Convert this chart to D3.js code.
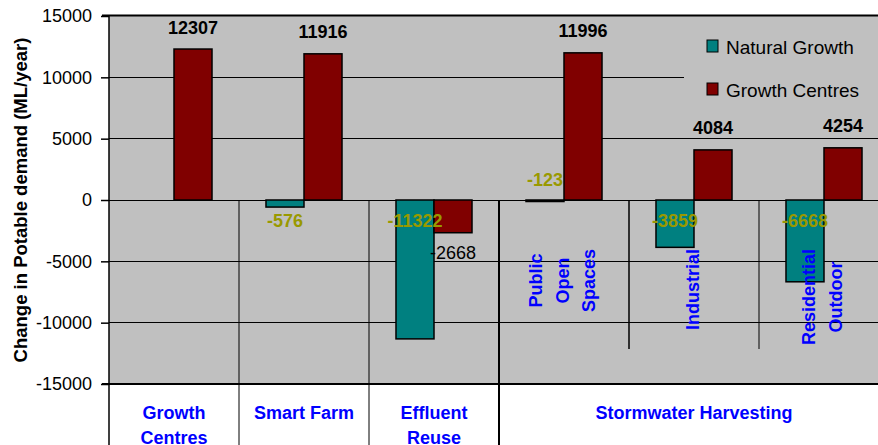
<!DOCTYPE html>
<html>
<head>
<meta charset="utf-8">
<script src="https://cdn.jsdelivr.net/npm/d3@7"></script>
<style>
  body { margin: 0; background: #fff; }
  text { font-family: "Liberation Sans", Arial, sans-serif; }
</style>
</head>
<body>
<svg id="canvas" width="878" height="445"></svg>
<script>
let categories = ["Growth Centres", "Smart Farm", "Effluent Reuse", "Public Open Spaces", "Industrial", "Residential Outdoor"]
let naturalGrowth = [null, -576, -11322, -123, -3859, -6668]
let growthCentres = [12307, 11916, -2668, 11996, 4084, 4254]
let yTicks = [-15000, -10000, -5000, 0, 5000, 10000, 15000]
let seriesNames = ["Natural Growth", "Growth Centres"]
let seriesColors = ["#008080", "#800000"]
let groupLines = [["Growth", "Centres"], ["Smart Farm"], ["Effluent", "Reuse"], ["Stormwater Harvesting"]]
let groupSizes = [1, 1, 1, 3]
let subLines = [null, null, null, ["Public", "Open", "Spaces"], ["Industrial"], ["Residential", "Outdoor"]]

let svg = d3.select('#canvas')

let plotLeft = 109, plotRight = 889, plotTop = 16, plotBottom = 384

let x = d3.scaleBand().domain(categories).range([plotLeft, plotRight])
let xs = d3.scaleBand().domain(seriesNames).range([0, x.bandwidth()]).paddingOuter(0.71)
let y = d3.scaleLinear().domain([-15000, 15000]).range([plotBottom, plotTop])

// plot background
svg.append('rect')
   .attr('x', plotLeft).attr('y', plotTop)
   .attr('width', plotRight - plotLeft).attr('height', plotBottom - plotTop)
   .attr('fill', '#c0c0c0')

// gridlines
svg.selectAll('line.grid')
   .data(yTicks.filter(t => t > -15000 && t < 15000))
   .enter()
   .append('line')
   .attr('class', 'grid')
   .attr('x1', plotLeft).attr('x2', plotRight)
   .attr('y1', d => y(d)).attr('y2', d => y(d))
   .attr('stroke', '#000').attr('stroke-width', 1)
   .attr('shape-rendering', 'crispEdges')

// legend box hides gridline behind it
svg.append('rect')
   .attr('x', 684).attr('y', 24)
   .attr('width', plotRight - 684).attr('height', 90)
   .attr('fill', '#c0c0c0')

// separators between categories, from zero line down
let bounds = []
let acc = 0
groupSizes.forEach((n, i) => {
    if (i > 0) bounds.push({x: x(categories[acc]), y2: 445, w: i === 3 ? 2 : 1})
    for (let k = 1; k < n; k++) {
        bounds.push({x: x(categories[acc + k]), y2: 349, w: k === 1 ? 1.5 : 1})
    }
    acc += n
})
svg.selectAll('line.sep')
   .data(bounds)
   .enter()
   .append('line')
   .attr('class', 'sep')
   .attr('x1', d => d.x).attr('x2', d => d.x)
   .attr('y1', y(0)).attr('y2', d => d.y2)
   .attr('stroke', '#000').attr('stroke-width', d => d.w)

// bars
let series = [naturalGrowth, growthCentres]
series.forEach((vals, si) => {
    svg.selectAll('rect.s' + si)
       .data(vals.map((v, i) => ({cat: categories[i], v: v})).filter(d => d.v !== null))
       .enter()
       .append('rect')
       .attr('class', 's' + si)
       .attr('x', d => x(d.cat) + xs(seriesNames[si]))
       .attr('width', xs.bandwidth())
       .attr('y', d => y(Math.max(0, d.v)))
       .attr('height', d => Math.abs(y(d.v) - y(0)))
       .attr('fill', seriesColors[si])
       .attr('stroke', '#000').attr('stroke-width', 1.5)
})

// sub category labels (rotated, inside plot)
subLines.forEach((lines, i) => {
    if (!lines) return
    let cx = x(categories[i]) + x.bandwidth() / 2 - 2
    let g = svg.append('g')
    let texts = lines.map((l, j) => g.append('text')
        .text(l)
        .attr('font-size', 18).attr('font-weight', 'bold')
        .attr('fill', '#0000ff')
        .attr('text-anchor', 'middle'))
    let maxLen = d3.max(texts, t => t.node().getComputedTextLength())
    let cy = 249 + maxLen / 2
    texts.forEach((t, j) => {
        let lx = cx + (j - (lines.length - 1) / 2) * 26.5 + 6.5
        t.attr('transform', `translate(${lx},${cy}) rotate(-90)`)
    })
})

// data labels
svg.selectAll('text.nat')
   .data(naturalGrowth.map((v, i) => ({cat: categories[i], v: v})).filter(d => d.v !== null))
   .enter()
   .append('text')
   .attr('class', 'nat')
   .attr('x', d => x(d.cat) + xs(seriesNames[0]) + xs.bandwidth() / 2)
   .attr('y', d => d.v > -300 ? y(0) - 14.5 : y(0) + 27)
   .attr('text-anchor', 'middle')
   .attr('font-size', 18).attr('font-weight', 'bold')
   .attr('fill', '#999900')
   .text(d => d.v)

svg.selectAll('text.gc')
   .data(growthCentres.map((v, i) => ({cat: categories[i], v: v})))
   .enter()
   .append('text')
   .attr('class', 'gc')
   .attr('x', d => x(d.cat) + xs(seriesNames[1]) + xs.bandwidth() / 2)
   .attr('y', d => d.v >= 0 ? y(d.v) - 15.5 : y(d.v) + 26)
   .attr('text-anchor', 'middle')
   .attr('font-size', 18).attr('font-weight', d => d.v >= 0 ? 'bold' : 'normal')
   .attr('fill', '#000')
   .text(d => d.v)

// plot borders
svg.append('line')
   .attr('x1', 102).attr('x2', plotRight).attr('y1', plotTop - 0.5).attr('y2', plotTop - 0.5)
   .attr('stroke', '#000').attr('stroke-width', 2)
svg.append('line')
   .attr('x1', 102).attr('x2', plotRight).attr('y1', plotBottom).attr('y2', plotBottom)
   .attr('stroke', '#000').attr('stroke-width', 2)

// y axis
let yAxis = d3.axisLeft(y).tickValues(yTicks).tickFormat(d => String(d))
    .tickSize(8).tickPadding(9).tickSizeOuter(0)
let ga = svg.append('g').attr('transform', `translate(${plotLeft},0)`).call(yAxis)
ga.select('.domain').remove()
ga.selectAll('line').attr('stroke', '#000').attr('stroke-width', 1.5)
ga.selectAll('text').attr('font-size', 18).attr('fill', '#000')
   .style('font-family', '"Liberation Sans", Arial, sans-serif')
svg.append('line')
   .attr('x1', plotLeft).attr('x2', plotLeft).attr('y1', plotTop - 1).attr('y2', 445)
   .attr('stroke', '#000').attr('stroke-width', 1.5)

svg.append('text')
   .attr('transform', `translate(27,${(plotTop + plotBottom) / 2}) rotate(-90)`)
   .attr('text-anchor', 'middle')
   .attr('font-size', 18.5).attr('font-weight', 'bold')
   .text('Change in Potable demand (ML/year)')

// group labels under axis
let start = 0
groupLines.forEach((lines, i) => {
    let x0 = x(categories[start])
    let x1 = x(categories[start + groupSizes[i] - 1]) + x.bandwidth()
    lines.forEach((l, j) => {
        svg.append('text')
           .attr('x', (x0 + x1) / 2)
           .attr('y', 418.5 + j * 25.5)
           .attr('text-anchor', 'middle')
           .attr('font-size', 18).attr('font-weight', 'bold')
           .attr('fill', '#0000ff')
           .text(l)
    })
    start += groupSizes[i]
})

// legend
seriesNames.forEach((name, i) => {
    let ly = 40 + i * 43
    svg.append('rect')
       .attr('x', 707).attr('y', ly)
       .attr('width', 11).attr('height', 12)
       .attr('fill', seriesColors[i])
       .attr('stroke', '#000').attr('stroke-width', 1)
    svg.append('text')
       .attr('x', 726).attr('y', ly + 13.5)
       .attr('font-size', 19)
       .attr('fill', '#000')
       .text(name)
})
</script>
</body>
</html>
